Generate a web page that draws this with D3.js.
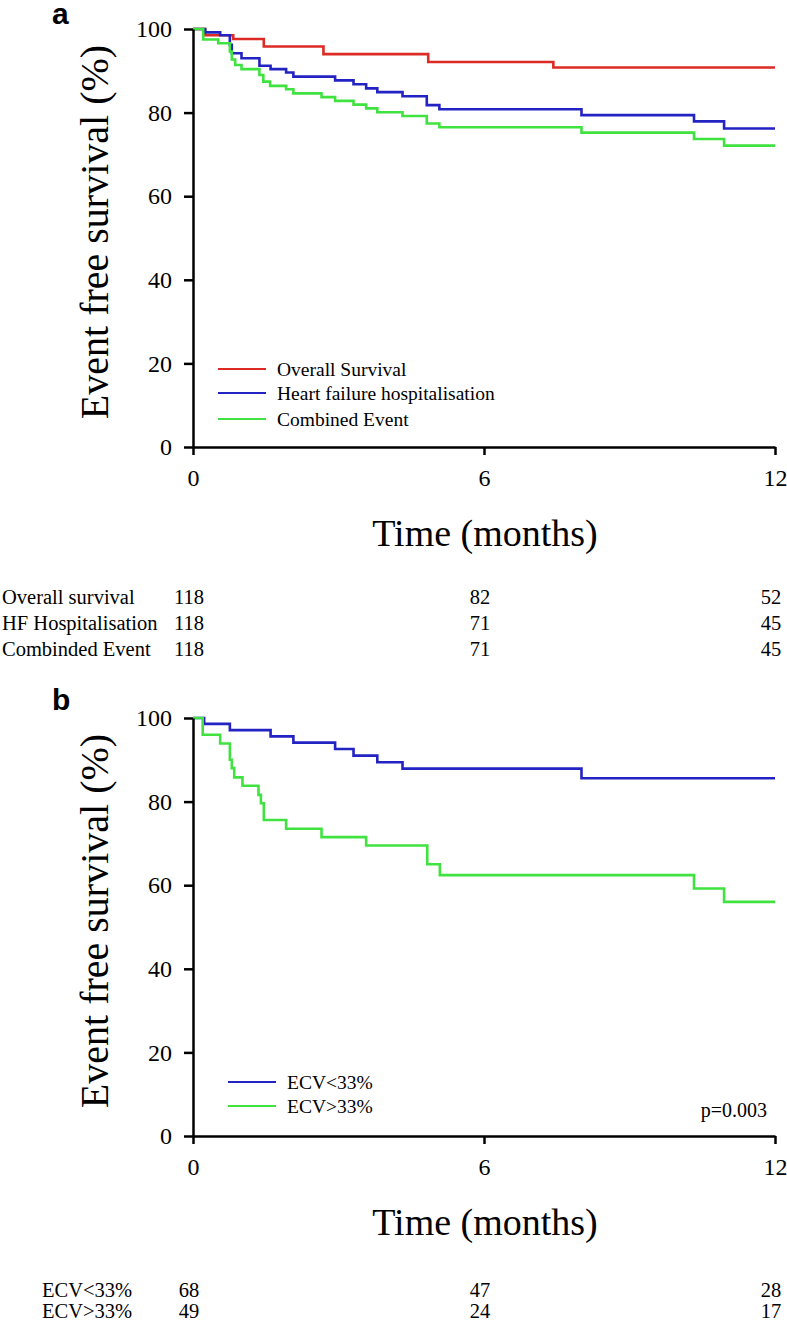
<!DOCTYPE html>
<html>
<head>
<meta charset="utf-8">
<script src="https://cdn.jsdelivr.net/npm/d3@7"></script>
<style>
  body { margin: 0; background: #fff; }
  svg { display: block; }
  text { font-family: "Liberation Serif", "Times New Roman", serif; fill: #000; }
  .panel-letter { font-family: "Liberation Sans", Arial, sans-serif; font-weight: bold; }
  .axis path, .axis line { stroke: #000; stroke-width: 2.5; }
  .axis text { font-size: 24px; }
</style>
</head>
<body>
<div id="container"></div>
<script>
// ---- data ----
const monthTicks = [0, 6, 12];
const pctTicks = [0, 20, 40, 60, 80, 100];

// panel a
const osTime = [0, 0.25, 0.83, 1.46, 2.69, 4.85, 7.43, 12];
const osSurv = [100, 98.5, 97.6, 95.8, 94.0, 92.1, 90.8, 90.8];

const hfTime = [0, 0.25, 0.56, 0.76, 0.80, 1.0, 1.37, 1.60, 1.92, 2.07, 2.93, 3.31, 3.57, 3.80, 4.32, 4.82, 5.08, 8.01, 10.33, 10.95, 12];
const hfSurv = [100, 99.2, 98.5, 96.2, 94.2, 93.0, 91.2, 90.4, 89.6, 88.6, 87.7, 86.8, 85.8, 84.9, 83.9, 81.8, 80.8, 79.4, 77.9, 76.2, 76.2];

const ceTime = [0, 0.21, 0.52, 0.76, 0.80, 0.87, 1.0, 1.37, 1.45, 1.59, 1.92, 2.07, 2.65, 2.93, 3.31, 3.57, 3.80, 4.32, 4.82, 5.08, 8.01, 10.33, 10.95, 12];
const ceSurv = [100, 97.5, 96.6, 94.6, 92.7, 91.4, 90.4, 89.0, 87.4, 86.4, 85.6, 84.6, 83.7, 82.8, 81.9, 81.0, 80.1, 79.2, 77.4, 76.5, 75.2, 73.7, 72.1, 72.1];

const seriesA = ["Overall Survival", "Heart failure hospitalisation", "Combined Event"];
const riskLabelsA = ["Overall survival", "HF Hospitalisation", "Combinded Event"];
const riskA = [[118, 82, 52], [118, 71, 45], [118, 71, 45]];

// panel b
const lowTime = [0, 0.23, 0.76, 1.60, 2.07, 2.93, 3.31, 3.80, 4.32, 8.01, 12];
const lowSurv = [100, 98.6, 97.1, 95.6, 94.1, 92.6, 91.0, 89.4, 87.9, 85.6, 85.6];

const highTime = [0, 0.20, 0.56, 0.76, 0.80, 0.85, 1.02, 1.35, 1.40, 1.46, 1.92, 2.65, 3.57, 4.83, 5.09, 10.33, 10.95, 12];
const highSurv = [100, 96.0, 93.9, 90.0, 88.0, 85.8, 83.8, 81.6, 79.6, 75.6, 73.5, 71.5, 69.5, 65.0, 62.4, 59.2, 56.0, 56.0];

const seriesB = ["ECV<33%", "ECV>33%"];
const riskLabelsB = ["ECV<33%", "ECV>33%"];
const riskB = [[68, 47, 28], [49, 24, 17]];
const pValue = "p=0.003";

const red = "#dc2a24", blue = "#2323c4", green = "#3fe23f";

// ---- layout ----
const W = 787, H = 1323;
const svg = d3.select("#container").append("svg")
    .attr("width", W).attr("height", H);

const x = d3.scaleLinear().domain([0, 12]).range([193, 775]);

function drawPanel(opts) {
    const y = d3.scaleLinear().domain([0, 100]).range([opts.bottom, opts.top]);

    // panel letter
    svg.append("text")
        .attr("class", "panel-letter")
        .attr("x", 52).attr("y", opts.letterY)
        .style("font-size", "30px")
        .text(opts.letter);

    // curves
    const line = d3.line()
        .x(d => x(d[0]))
        .y(d => y(d[1]))
        .curve(d3.curveStepAfter);

    opts.curves.forEach(c => {
        const pts = c.t.map((t, i) => [t, c.s[i]]);
        svg.append("path")
            .attr("d", line(pts))
            .attr("fill", "none")
            .attr("stroke", c.color)
            .attr("stroke-width", 2.6);
    });

    // axes
    svg.append("g")
        .attr("class", "axis")
        .attr("transform", `translate(${x(0)},0)`)
        .call(d3.axisLeft(y).tickValues(pctTicks).tickSize(9).tickSizeOuter(0).tickPadding(12));

    svg.append("g")
        .attr("class", "axis")
        .attr("transform", `translate(0,${opts.bottom})`)
        .call(d3.axisBottom(x).tickValues(monthTicks).tickSize(8).tickSizeOuter(0).tickPadding(14));

    // axis titles
    svg.append("text")
        .attr("transform", `translate(108,${(opts.top + opts.bottom) / 2 - 6}) rotate(-90)`)
        .attr("text-anchor", "middle")
        .style("font-size", "40px")
        .text("Event free survival (%)");

    svg.append("text")
        .attr("x", 485).attr("y", opts.bottom + 99)
        .attr("text-anchor", "middle")
        .style("font-size", "38px")
        .text("Time (months)");

    // legend
    const lg = svg.append("g");
    opts.legend.forEach((name, i) => {
        const ly = opts.legendY[i];
        lg.append("line")
            .attr("x1", opts.legendX).attr("x2", opts.legendX + 48)
            .attr("y1", ly).attr("y2", ly)
            .attr("stroke", opts.curves[i].color)
            .attr("stroke-width", 2.2);
        lg.append("text")
            .attr("x", opts.legendX + 59).attr("y", ly + 7)
            .style("font-size", "19.5px")
            .text(name);
    });

    // numbers at risk
    opts.riskLabels.forEach((lab, i) => {
        const ry = opts.riskY[i];
        svg.append("text")
            .attr("x", opts.riskX).attr("y", ry)
            .style("font-size", "20.5px")
            .text(lab);
        opts.risk[i].forEach((n, j) => {
            svg.append("text")
                .attr("x", x(monthTicks[j]) - 4).attr("y", ry)
                .attr("text-anchor", "middle")
                .style("font-size", "20.5px")
                .text(n);
        });
    });
}

drawPanel({
    letter: "a", letterY: 24,
    top: 29, bottom: 447,
    curves: [
        { t: osTime, s: osSurv, color: red },
        { t: hfTime, s: hfSurv, color: blue },
        { t: ceTime, s: ceSurv, color: green }
    ],
    legend: seriesA, legendX: 218, legendY: [369, 393, 419],
    riskLabels: riskLabelsA, risk: riskA, riskX: 2, riskY: [604, 630, 656]
});

drawPanel({
    letter: "b", letterY: 710,
    top: 718, bottom: 1136,
    curves: [
        { t: lowTime, s: lowSurv, color: blue },
        { t: highTime, s: highSurv, color: green }
    ],
    legend: seriesB, legendX: 228, legendY: [1082, 1106],
    riskLabels: riskLabelsB, risk: riskB, riskX: 42, riskY: [1297, 1318]
});

svg.append("text")
    .attr("x", 767).attr("y", 1117)
    .attr("text-anchor", "end")
    .style("font-size", "20px")
    .text(pValue);
</script>
</body>
</html>
